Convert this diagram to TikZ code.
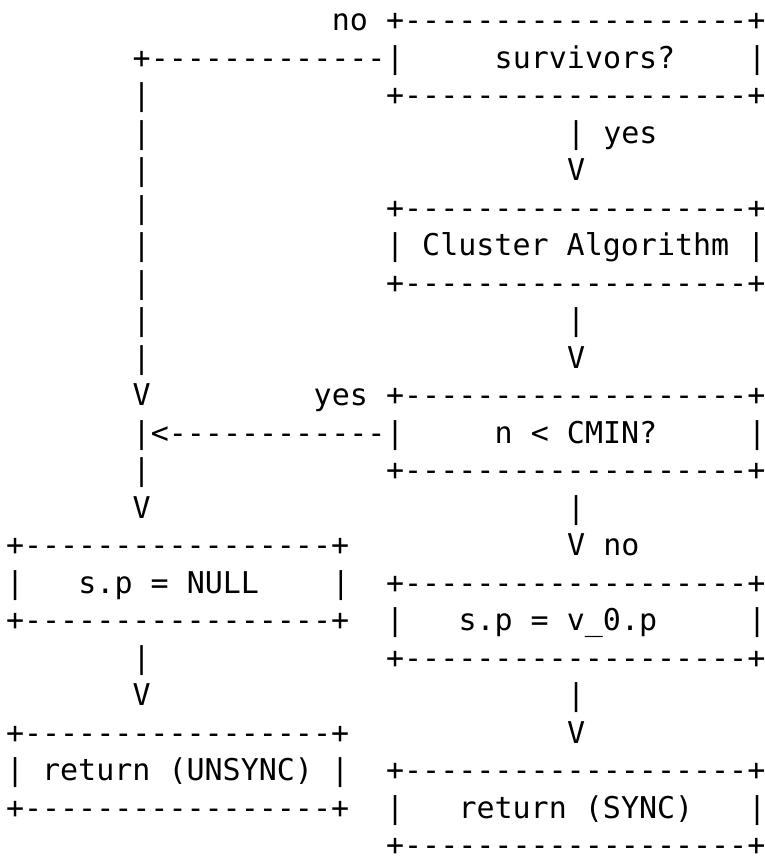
\documentclass[tikz,border=0pt]{standalone}
\usepackage{fontspec}
\setmonofont{DejaVu Sans Mono}
\tikzset{
  t/.style={inner sep=0pt, outer sep=0pt, anchor=base west,
            font=\ttfamily\fontsize{30}{30}\selectfont, text=black},
}
\newcommand\seg[4]{\node[t] (#1) at (#2,#3) {#4};}
\newcommand\boxline{+-------------------+}
\newcommand\lboxline{+-----------------+}
\begin{document}
\begin{tikzpicture}
\fill[white] (0pt,0pt) rectangle (765pt,-860pt);
\path[use as bounding box] (0pt,0pt) rectangle (765pt,-860pt);
\begin{scope}[shift={(6pt,-30.5pt)}, x=18.1pt, y=-37.5pt]
% row 0
\seg{noA}{18}{0}{no}
\seg{survT}{21}{0}{\boxline}
% row 1
\seg{noLine}{7}{1}{+-------------}
\seg{survL}{21}{1}{|}
\seg{survTxt}{27}{1}{survivors?}
\seg{survR}{41}{1}{|}
% row 2
\seg{vA2}{7}{2}{|}
\seg{survB}{21}{2}{\boxline}
% row 3
\seg{vA3}{7}{3}{|}
\seg{c1a}{31}{3}{|}
\seg{yesA}{33}{3}{yes}
% row 4
\seg{vA4}{7}{4}{|}
\seg{c1b}{31}{4}{V}
% row 5
\seg{vA5}{7}{5}{|}
\seg{clT}{21}{5}{\boxline}
% row 6
\seg{vA6}{7}{6}{|}
\seg{clM}{21}{6}{| Cluster Algorithm |}
% row 7
\seg{vA7}{7}{7}{|}
\seg{clB}{21}{7}{\boxline}
% row 8
\seg{vA8}{7}{8}{|}
\seg{c2a}{31}{8}{|}
% row 9
\seg{vA9}{7}{9}{|}
\seg{c2b}{31}{9}{V}
% row 10
\seg{vA10}{7}{10}{V}
\seg{yesB}{17}{10}{yes}
\seg{cmT}{21}{10}{\boxline}
% row 11
\seg{yesLine}{7}{11}{|<------------}
\seg{cmL}{21}{11}{|}
\seg{cmTxt}{27}{11}{n < CMIN?}
\seg{cmR}{41}{11}{|}
% row 12
\seg{vA12}{7}{12}{|}
\seg{cmB}{21}{12}{\boxline}
% row 13
\seg{vA13}{7}{13}{V}
\seg{c3a}{31}{13}{|}
% row 14
\seg{nuT}{0}{14}{\lboxline}
\seg{c3b}{31}{14}{V}
\seg{noB}{33}{14}{no}
% row 15
\seg{nuL}{0}{15}{|}
\seg{nuTxt}{4}{15}{s.p = NULL}
\seg{nuR}{18}{15}{|}
\seg{vpT}{21}{15}{\boxline}
% row 16
\seg{nuB}{0}{16}{\lboxline}
\seg{vpL}{21}{16}{|}
\seg{vpTxt}{25}{16}{s.p = v\_0.p}
\seg{vpR}{41}{16}{|}
% row 17
\seg{c4a}{7}{17}{|}
\seg{vpB}{21}{17}{\boxline}
% row 18
\seg{c4b}{7}{18}{V}
\seg{c5a}{31}{18}{|}
% row 19
\seg{unT}{0}{19}{\lboxline}
\seg{c5b}{31}{19}{V}
% row 20
\seg{unM}{0}{20}{| return (UNSYNC) |}
\seg{syT}{21}{20}{\boxline}
% row 21
\seg{unB}{0}{21}{\lboxline}
\seg{syL}{21}{21}{|}
\seg{syTxt}{25}{21}{return (SYNC)}
\seg{syR}{41}{21}{|}
% row 22
\seg{syB}{21}{22}{\boxline}
\end{scope}
\end{tikzpicture}
\end{document}
